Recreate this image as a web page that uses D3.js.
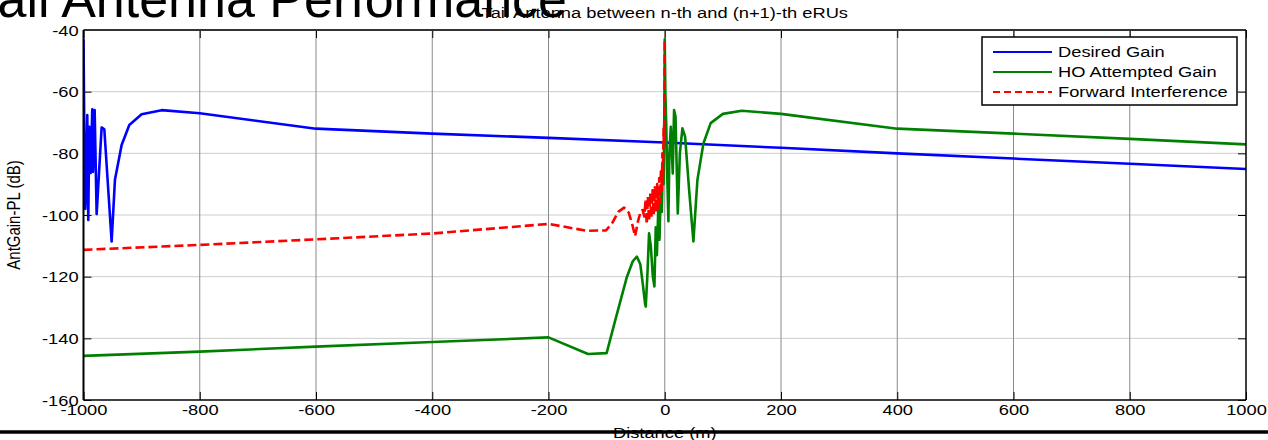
<!DOCTYPE html>
<html>
<head>
<meta charset="utf-8">
<title>Tail Antenna Performance</title>
<script src="https://d3js.org/d3.v7.min.js"></script>
<style>
  body { margin: 0; background: #fff; }
  text { font-family: Arial, "Liberation Sans", Helvetica, sans-serif; fill: #000; }
</style>
</head>
<body>
<script>
// ---- data ----
var xTicks = [-1000, -800, -600, -400, -200, 0, 200, 400, 600, 800, 1000];
var yTicks = [-160, -140, -120, -100, -80, -60, -40];

var seriesNames = ["Desired Gain", "HO Attempted Gain", "Forward Interference"];

var distDesired = [-1000, -998.5, -997, -995.8, -993.5, -991.8, -990, -987.7, -984.9, -983.7, -980.8, -977.4,
  -968.8, -964.2, -951.6, -945.9, -934.4, -921.2, -900, -865.6, -800, -600, -400, -200, 0, 200, 400, 600, 800, 1000];
var gainDesired = [-43, -75, -98, -93, -67.6, -101.6, -71.4, -86.4, -65.7, -86, -66, -99.7,
  -71.6, -72.2, -108.6, -88.6, -77.3, -70.8, -67.3, -66, -67, -72, -73.6, -75, -76.5, -78.2, -80, -81.7, -83.4, -85.1];

var distHO = [-1000, -800, -600, -400, -200, -132, -100, -85, -65, -55, -48, -42, -38, -34, -32.7, -30, -27, -24,
  -20.5, -17.8, -15.5, -13.5, -11, -9, -7, -5, -3.5, -2, -0.8, 0, 1, 2.5, 4, 6.3, 8, 10.4, 13.8, 16, 18.5, 22.4,
  26, 30.4, 35, 42, 49.3, 56.2, 66.5, 79, 100, 132.5, 200, 400, 600, 800, 1000];
var gainHO = [-145.7, -144.3, -142.7, -141.2, -139.7, -145.1, -144.8, -134, -120, -115, -113.5, -116, -122, -128.5,
  -129.7, -120, -105.9, -110, -120, -123.2, -104, -113, -97, -108, -92, -99, -84, -90, -70, -43, -60, -70, -85, -102,
  -80, -71.4, -86.5, -66, -68, -99.5, -80, -71.9, -74.6, -92, -108.6, -88.6, -76.8, -70.2, -67.2, -66.2, -67.2,
  -72, -73.6, -75.3, -77.1];

var distFwd = [-1000, -800, -600, -400, -200, -134, -101, -90, -80, -70, -62, -56, -51, -46, -41, -38, -35, -33, -31,
  -29, -27, -25, -23, -21, -19, -17, -15, -13, -11, -9.5, -8, -6.5, -5, -4, -3, -2, -1.2, -0.6, 0];
var gainFwd = [-111.3, -109.7, -107.9, -106, -102.9, -105.1, -105, -102.5, -99, -97.6, -99.2, -103, -106.8, -102,
  -98.6, -98.4, -100.5, -95, -103, -94, -102, -93, -101, -92, -100, -91, -99, -90, -98, -88, -96, -85, -92, -80,
  -87, -72, -77, -62, -43];

var colors = ["#0000ff", "#008000", "#ff0000"];

// ---- layout ----
var W = 1268, H = 440;
var pL = 83.5, pR = 1246, pT = 30, pB = 400;
var sx = 1.22; // the figure in the slide is stretched sideways

var svg = d3.select("body").append("svg")
  .attr("width", W).attr("height", H);

var x = d3.scaleLinear().domain([-1000, 1000]).range([pL, pR]);
var y = d3.scaleLinear().domain([-160, -40]).range([pB, pT]);

// slide title, cut off at the left edge
svg.append("text")
  .attr("x", 567).attr("y", 17)
  .attr("text-anchor", "end")
  .style("font-size", "52px")
  .text("Tail Antenna Performance");

// grid
svg.append("g").selectAll("line").data(xTicks.slice(1, -1)).join("line")
  .attr("x1", d => x(d)).attr("x2", d => x(d))
  .attr("y1", pT).attr("y2", pB)
  .attr("stroke", "#8a8a8a").attr("stroke-width", 1);
svg.append("g").selectAll("line").data(yTicks.slice(1, -1)).join("line")
  .attr("x1", pL).attr("x2", pR)
  .attr("y1", d => y(d)).attr("y2", d => y(d))
  .attr("stroke", "#9a9a9a").attr("stroke-width", 1)
  .attr("stroke-dasharray", "1,1");

// axes (ticks point inwards, like matlab)
var fmt = function(d) { return String(d); };
var xAxis = svg.append("g").attr("transform", "translate(0," + pB + ")")
  .call(d3.axisBottom(x).tickValues(xTicks).tickSize(-8).tickPadding(4).tickFormat(fmt));
var xTop = svg.append("g").attr("transform", "translate(0," + pT + ")")
  .call(d3.axisTop(x).tickValues(xTicks).tickSize(-8).tickFormat(""));
var yAxis = svg.append("g").attr("transform", "translate(" + pL + ",0)")
  .call(d3.axisLeft(y).tickValues(yTicks).tickSize(-8).tickPadding(4).tickFormat(fmt));
var yRight = svg.append("g").attr("transform", "translate(" + pR + ",0)")
  .call(d3.axisRight(y).tickValues(yTicks).tickSize(-8).tickFormat(""));

[xAxis, xTop, yAxis, yRight].forEach(function(a) {
  a.select(".domain").remove();
  a.selectAll(".tick line").attr("stroke", "#000");
  a.selectAll("text").style("font-size", "15px").attr("fill", "#000")
    .attr("transform", "scale(" + sx + ",1)");
});
yAxis.selectAll("text").attr("x", -4).attr("dy", "0.35em");
xAxis.selectAll("text").attr("dy", "0.71em");

// lines
svg.append("clipPath").attr("id", "plotclip").append("rect")
  .attr("x", pL).attr("y", pT).attr("width", pR - pL).attr("height", pB - pT);

var line = d3.line().x(d => x(d[0])).y(d => y(d[1]));
var series = [
  d3.zip(distDesired, gainDesired),
  d3.zip(distHO, gainHO),
  d3.zip(distFwd, gainFwd)
];
var plot = svg.append("g").attr("clip-path", "url(#plotclip)");
series.forEach(function(s, i) {
  plot.append("path").datum(s)
    .attr("d", line)
    .attr("fill", "none")
    .attr("stroke", colors[i])
    .attr("stroke-width", 2.6)
    .attr("stroke-linejoin", "round")
    .attr("stroke-dasharray", i == 2 ? "9,4" : null);
});

// frame
svg.append("line").attr("x1", pL).attr("x2", pR).attr("y1", pT).attr("y2", pT)
  .attr("stroke", "#333").attr("stroke-width", 2);
svg.append("line").attr("x1", pL).attr("x2", pR).attr("y1", pB).attr("y2", pB)
  .attr("stroke", "#000").attr("stroke-width", 1.5);
svg.append("line").attr("x1", pL).attr("x2", pL).attr("y1", pT).attr("y2", pB)
  .attr("stroke", "#000").attr("stroke-width", 2);
svg.append("line").attr("x1", pR).attr("x2", pR).attr("y1", pT).attr("y2", pB)
  .attr("stroke", "#000").attr("stroke-width", 1.5);

// legend
var lg = svg.append("g").attr("transform", "translate(982,37)");
lg.append("rect").attr("width", 255).attr("height", 68)
  .attr("fill", "#fff").attr("stroke", "#000").attr("stroke-width", 1.5);
seriesNames.forEach(function(name, i) {
  var ly = 15 + i * 20;
  lg.append("line").attr("x1", 11).attr("x2", 70).attr("y1", ly).attr("y2", ly)
    .attr("stroke", colors[i]).attr("stroke-width", 2)
    .attr("stroke-dasharray", i == 2 ? "7,4" : null);
  lg.append("text")
    .attr("transform", "translate(76," + ly + ") scale(" + sx + ",1)")
    .attr("dy", "0.35em")
    .style("font-size", "15px")
    .text(name);
});

// titles
svg.append("text")
  .attr("transform", "translate(" + (pL + pR) / 2 + ",18) scale(" + sx + ",1)")
  .attr("text-anchor", "middle")
  .style("font-size", "15px")
  .text("Tail Antenna between n-th and (n+1)-th eRUs");

svg.append("text")
  .attr("transform", "translate(20," + (pT + pB) / 2 + ") scale(" + sx + ",1) rotate(-90)")
  .attr("text-anchor", "middle")
  .style("font-size", "15px")
  .text("AntGain-PL (dB)");

svg.append("text")
  .attr("transform", "translate(" + (pL + pR) / 2 + ",438) scale(" + sx + ",1)")
  .attr("text-anchor", "middle")
  .style("font-size", "15px")
  .text("Distance (m)");

// slide separator drawn over the axis label
svg.append("line").attr("x1", 0).attr("x2", W).attr("y1", 432).attr("y2", 432)
  .attr("stroke", "#000").attr("stroke-width", 3.5);
</script>
</body>
</html>
